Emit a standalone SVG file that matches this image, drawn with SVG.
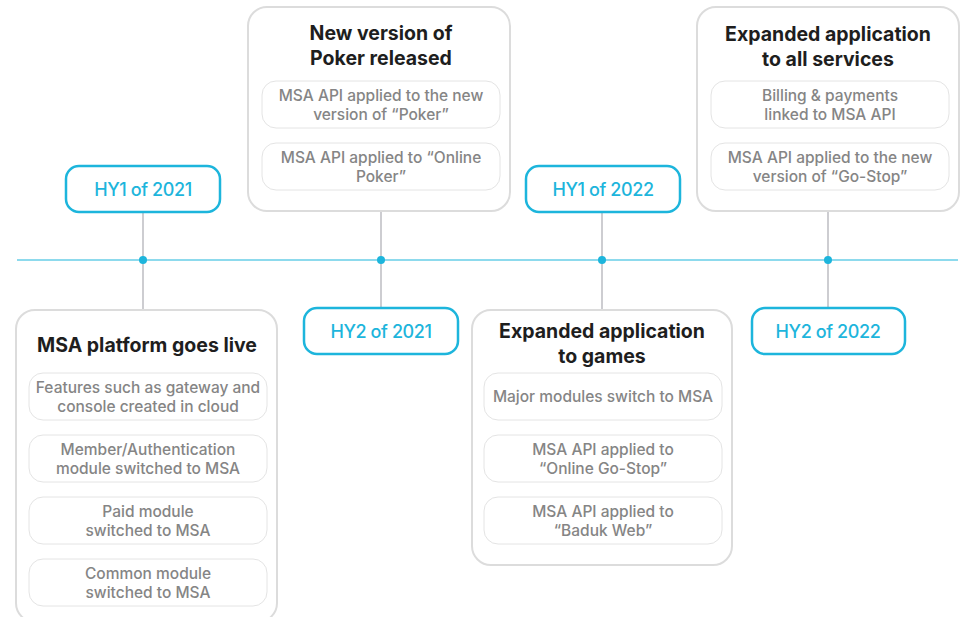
<svg xmlns="http://www.w3.org/2000/svg" width="968" height="617" viewBox="0 0 968 617">
  <style>
    .card { fill: #ffffff; stroke: #dcdcdc; stroke-width: 2; }
    .item { fill: #ffffff; stroke: #e4e4e4; stroke-width: 1; }
    .period { fill: #ffffff; stroke: #1db5dc; stroke-width: 2.5; }
    .title { font-family: Inter, "Liberation Sans", sans-serif; font-weight: 700; font-size: 19.5px; fill: #1e1e1e; text-anchor: middle; letter-spacing: 0; }
    .txt { font-family: Inter, "Liberation Sans", sans-serif; font-weight: 500; font-size: 15.5px; fill: #858585; text-anchor: middle; letter-spacing: 0; }
    .lbl { font-family: Inter, "Liberation Sans", sans-serif; font-weight: 500; font-size: 18px; fill: #1db5dc; text-anchor: middle; letter-spacing: -0.4px; }
    .stem { stroke: #bdbdc2; stroke-width: 1.5; fill: none; }
    .axis { stroke: #1db5dc; stroke-width: 1.2; fill: none; }
    .dot { fill: #1db5dc; }
  </style>

  <!-- timeline axis and stems -->
  <g id="connectors">
    <line class="axis" x1="17" y1="260" x2="958" y2="260"/>
    <line class="stem" x1="143" y1="212" x2="143" y2="310"/>
    <line class="stem" x1="381" y1="211" x2="381" y2="307"/>
    <line class="stem" x1="602" y1="212" x2="602" y2="310"/>
    <line class="stem" x1="828" y1="211" x2="828" y2="307"/>
    <circle class="dot" cx="143" cy="260" r="4"/>
    <circle class="dot" cx="381" cy="260" r="4"/>
    <circle class="dot" cx="602" cy="260" r="4"/>
    <circle class="dot" cx="828" cy="260" r="4"/>
  </g>

  <!-- period labels -->
  <g id="hy1-2021">
    <rect class="period" x="66" y="166" width="154" height="46" rx="13"/>
    <text class="lbl" x="143" y="195.5">HY1 of 2021</text>
  </g>
  <g id="hy2-2021">
    <rect class="period" x="304" y="308" width="154" height="46" rx="13"/>
    <text class="lbl" x="381" y="337.5">HY2 of 2021</text>
  </g>
  <g id="hy1-2022">
    <rect class="period" x="526" y="166" width="154" height="46" rx="13"/>
    <text class="lbl" x="603" y="195.5">HY1 of 2022</text>
  </g>
  <g id="hy2-2022">
    <rect class="period" x="752" y="308" width="153" height="46" rx="13"/>
    <text class="lbl" x="828" y="337.5">HY2 of 2022</text>
  </g>

  <!-- milestone cards -->
  <g id="msa-platform">
    <rect class="card" x="16" y="310" width="261" height="312" rx="19"/>
    <text class="title" x="147" y="352">MSA platform goes live</text>
    <rect class="item" x="29" y="373" width="238" height="47" rx="14"/>
    <text class="txt" x="148" y="392.5">Features such as gateway and</text>
    <text class="txt" x="148" y="411.5">console created in cloud</text>
    <rect class="item" x="29" y="435" width="238" height="47" rx="14"/>
    <text class="txt" x="148" y="454.5">Member/Authentication</text>
    <text class="txt" x="148" y="473.5">module switched to MSA</text>
    <rect class="item" x="29" y="497" width="238" height="47" rx="14"/>
    <text class="txt" x="148" y="516.5">Paid module</text>
    <text class="txt" x="148" y="535.5">switched to MSA</text>
    <rect class="item" x="29" y="559" width="238" height="47" rx="14"/>
    <text class="txt" x="148" y="578.5">Common module</text>
    <text class="txt" x="148" y="597.5">switched to MSA</text>
  </g>

  <g id="poker">
    <rect class="card" x="248" y="7" width="262" height="204" rx="19"/>
    <text class="title" x="381" y="40">New version of</text>
    <text class="title" x="381" y="64.5">Poker released</text>
    <rect class="item" x="262" y="81" width="238" height="47" rx="14"/>
    <text class="txt" x="381" y="100.5">MSA API applied to the new</text>
    <text class="txt" x="381" y="119.5">version of “Poker”</text>
    <rect class="item" x="262" y="143" width="238" height="47" rx="14"/>
    <text class="txt" x="381" y="162.5">MSA API applied to “Online</text>
    <text class="txt" x="381" y="181.5">Poker”</text>
  </g>

  <g id="games">
    <rect class="card" x="472" y="310" width="260" height="255" rx="19"/>
    <text class="title" x="602" y="338">Expanded application</text>
    <text class="title" x="602" y="362.5">to games</text>
    <rect class="item" x="484" y="373" width="238" height="47" rx="14"/>
    <text class="txt" x="603" y="402">Major modules switch to MSA</text>
    <rect class="item" x="484" y="435" width="238" height="47" rx="14"/>
    <text class="txt" x="603" y="454.5">MSA API applied to</text>
    <text class="txt" x="603" y="473.5">“Online Go-Stop”</text>
    <rect class="item" x="484" y="497" width="238" height="47" rx="14"/>
    <text class="txt" x="603" y="516.5">MSA API applied to</text>
    <text class="txt" x="603" y="535.5">“Baduk Web”</text>
  </g>

  <g id="all-services">
    <rect class="card" x="697" y="7" width="262" height="204" rx="19"/>
    <text class="title" x="828" y="41">Expanded application</text>
    <text class="title" x="828" y="65.5">to all services</text>
    <rect class="item" x="711" y="81" width="238" height="47" rx="14"/>
    <text class="txt" x="830" y="100.5">Billing &amp; payments</text>
    <text class="txt" x="830" y="119.5">linked to MSA API</text>
    <rect class="item" x="711" y="143" width="238" height="47" rx="14"/>
    <text class="txt" x="830" y="162.5">MSA API applied to the new</text>
    <text class="txt" x="830" y="181.5">version of “Go-Stop”</text>
  </g>
</svg>
